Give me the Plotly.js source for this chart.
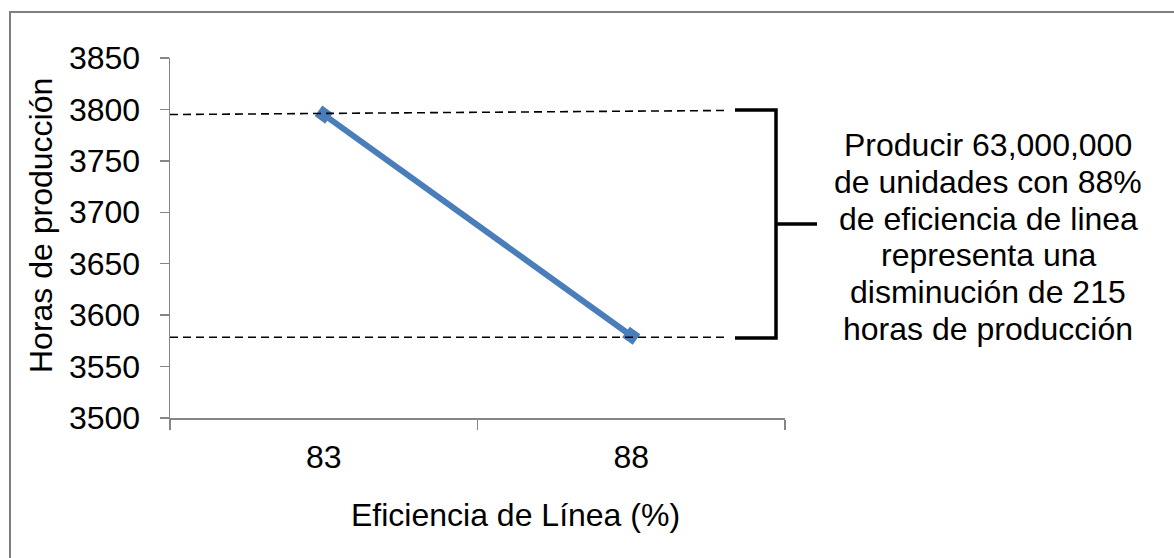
<!DOCTYPE html>
<html>
<head>
<meta charset="utf-8">
<script src="https://cdn.plot.ly/plotly-3.0.1.min.js"></script>
<style>html,body{margin:0;padding:0;background:#fff;}#chart{width:1174px;height:558px;}</style>
</head>
<body>
<div id="chart"></div>
<script>
// Data
const categories = ['83', '88'];
const hours = [3795, 3580];
const yTickVals = [3500, 3550, 3600, 3650, 3700, 3750, 3800, 3850];
const noteLines = [
  'Producir 63,000,000',
  'de unidades con 88%',
  'de eficiencia de linea',
  'representa una',
  'disminución de 215',
  'horas de producción'
];
const xTitle = 'Eficiencia de Línea (%)';
const yTitle = 'Horas de producción';

// Layout geometry (pixels)
const W = 1174, H = 558;
const L = 170, R = 785, T = 58, B = 418;
const px = x => (x - L) / (R - L);
const py = y => (B - y) / (B - T);

const FONT = '"Liberation Sans", Arial, sans-serif';
const AXC = '#868686';
const FS = 32;

const trace = {
  x: categories,
  y: hours,
  type: 'scatter',
  mode: 'lines+markers',
  line: {color: '#4A7EBB', width: 6},
  marker: {symbol: 'square', size: 13, color: '#4A7EBB', angle: 36},
  hoverinfo: 'skip'
};

const annotations = [];
// right-hand note
const noteBase = 155, noteStep = 36.8;
noteLines.forEach((t, i) => {
  annotations.push({
    text: t, xref: 'paper', yref: 'paper',
    x: px(988), y: py(noteBase + i * noteStep - 10),
    xanchor: 'center', yanchor: 'middle', showarrow: false,
    font: {family: FONT, size: FS, color: '#000'}
  });
});
annotations.push({
  text: xTitle, xref: 'paper', yref: 'paper',
  x: px(515.5), y: py(515), xanchor: 'center', yanchor: 'middle',
  showarrow: false, font: {family: FONT, size: FS, color: '#000'}
});
annotations.push({
  text: yTitle, xref: 'paper', yref: 'paper', textangle: -90,
  x: px(41), y: py(226), xanchor: 'center', yanchor: 'middle',
  showarrow: false, font: {family: FONT, size: FS, color: '#000'}
});

const shapes = [
  // outer border (top and left visible)
  {type: 'rect', xref: 'paper', yref: 'paper',
   x0: px(10), x1: px(1190), y0: py(12), y1: py(575),
   line: {color: '#7f7f7f', width: 2}, fillcolor: 'rgba(0,0,0,0)', layer: 'below'},
  // dashed reference lines
  {type: 'line', xref: 'paper', yref: 'y', x0: 0, x1: px(728), y0: hours[0], y1: hours[0] + 4,
   line: {color: '#000', width: 1.6, dash: '8px,5px'}},
  {type: 'line', xref: 'paper', yref: 'y', x0: 0, x1: px(727), y0: hours[1] - 1.5, y1: hours[1] - 1.5,
   line: {color: '#000', width: 1.6, dash: '8px,5px'}},
  // bracket
  {type: 'path', xref: 'paper', yref: 'paper',
   path: `M ${px(735)} ${py(110)} L ${px(776)} ${py(110)} L ${px(776)} ${py(338)} L ${px(735)} ${py(338)}`,
   line: {color: '#000', width: 3.5}},
  {type: 'line', xref: 'paper', yref: 'paper', x0: px(776), x1: px(817), y0: py(224), y1: py(224),
   line: {color: '#000', width: 3.5}}
];

const layout = {
  width: W, height: H,
  margin: {l: L, r: W - R, t: T, b: H - B, pad: 0},
  paper_bgcolor: '#fff', plot_bgcolor: '#fff',
  showlegend: false,
  font: {family: FONT, size: FS, color: '#000'},
  xaxis: {
    type: 'category', range: [-0.5, 1.5],
    showline: true, linecolor: AXC, linewidth: 1.5,
    ticks: 'outside', tickson: 'boundaries', ticklen: 10, tickcolor: AXC, tickwidth: 1.5,
    showgrid: false, zeroline: false,
    tickfont: {family: FONT, size: FS, color: '#000'},
    ticklabelstandoff: 10
  },
  yaxis: {
    range: [3500, 3850], tickvals: yTickVals, ticktext: yTickVals.map(String),
    showline: true, linecolor: AXC, linewidth: 1.5,
    ticks: 'outside', ticklen: 9, tickcolor: AXC, tickwidth: 1.5,
    showgrid: false, zeroline: false,
    tickfont: {family: FONT, size: FS, color: '#000'},
    ticklabelstandoff: 13
  },
  annotations: annotations,
  shapes: shapes
};

Plotly.newPlot('chart', [trace], layout, {staticPlot: true, displayModeBar: false});
</script>
</body>
</html>
